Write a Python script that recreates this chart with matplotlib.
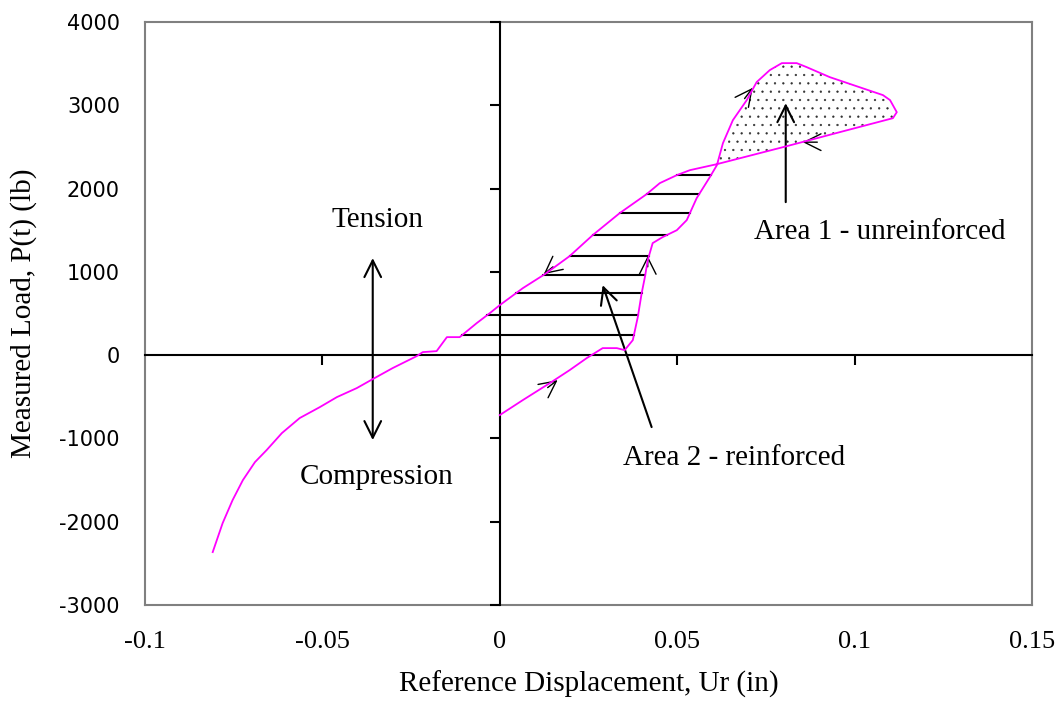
import numpy as np
import matplotlib
matplotlib.use("Agg")
import matplotlib.pyplot as plt

plt.rcParams["hatch.linewidth"] = 0.4
plt.rcParams["hatch.color"] = "#303030"

# load-displacement record (single continuous path)
disp = [0.0, 0.0065, 0.0141, 0.0197, 0.0245, 0.029, 0.033, 0.0352, 0.0375, 0.0389,
        0.040, 0.0409, 0.0417, 0.0431, 0.0459, 0.0499, 0.0527, 0.0555, 0.0592, 0.0612,
        0.0629, 0.0657, 0.0696, 0.0724, 0.0761, 0.0795, 0.0837, 0.0865, 0.093, 0.108,
        0.110, 0.1119, 0.1108, 0.0958, 0.0809, 0.0612, 0.0536, 0.0499, 0.0451, 0.0414,
        0.0338, 0.0262, 0.0197, 0.0127, 0.0065, 0.0, -0.0028, -0.0065, -0.0113, -0.0149,
        -0.0178, -0.0217, -0.0234, -0.0302, -0.0358, -0.0403, -0.0459, -0.0507, -0.0564,
        -0.0614, -0.0657, -0.069, -0.0724, -0.0753, -0.0781, -0.0809]
load = [-720, -540, -336, -180, -36, 84, 84, 60, 180, 456,
        744, 936, 1140, 1345, 1417, 1500, 1621, 1885, 2137, 2281,
        2545, 2821, 3061, 3278, 3422, 3506, 3506, 3458, 3338, 3122,
        3062, 2917, 2845, 2677, 2509, 2293, 2221, 2161, 2065, 1933,
        1705, 1441, 1189, 972, 804, 600, 504, 384, 216, 216,
        48, 36, -12, -156, -288, -396, -504, -624, -756,
        -936, -1140, -1285, -1501, -1741, -2017, -2365]

# horizontal hatch levels of area 2 (lb)
hatch_levels = [240, 480, 744, 960, 1189, 1441, 1705, 1933, 2161]
loop_level = 2280  # where the curve crosses itself

xticks = [-0.1, -0.05, 0, 0.05, 0.1, 0.15]
xticklabels = ["-0.1", "-0.05", "0", "0.05", "0.1", "0.15"]
yticks = [-3000, -2000, -1000, 0, 1000, 2000, 3000, 4000]

# small direction arrowheads on the curve: (tip, tail)
dir_arrows = [((0.0163, -300), (0.0135, -390)),
              ((0.0417, 1190), (0.0417, 1060)),
              ((0.0713, 3210), (0.0690, 3080)),
              ((0.0854, 2557), (0.0895, 2557)),
              ((0.0124, 972), (0.0150, 1060))]

disp = np.array(disp)
load = np.array(load)
peak = int(np.argmax(disp))


def first_cross(us, ps, level):
    for i in range(len(ps) - 1):
        p0, p1 = ps[i], ps[i + 1]
        if (p0 - level) * (p1 - level) <= 0 and p0 != p1:
            t = (level - p0) / (p1 - p0)
            return us[i] + t * (us[i + 1] - us[i])
    return np.nan


serif = "Liberation Serif"
fig = plt.figure(figsize=(10.58, 7.14), dpi=100)
pos = [0.137, 0.1527, 0.8384, 0.8165]

# frame + tick labels
ax = fig.add_axes(pos)
ax.set_xlim(-0.1, 0.15)
ax.set_ylim(-3000, 4000)
ax.set_xticks(xticks)
ax.set_xticklabels(xticklabels, fontfamily=serif, fontsize=19)
ax.set_yticks(yticks)
ax.set_yticklabels([str(v) for v in yticks], fontfamily="DejaVu Sans", fontsize=15)
ax.tick_params(axis="both", length=0)
ax.tick_params(axis="x", pad=19)
ax.tick_params(axis="y", pad=18)
for s in ax.spines.values():
    s.set_color("#808080")
    s.set_linewidth(1.5)
ax.set_xlabel("Reference Displacement, Ur (in)", fontfamily=serif, fontsize=21)
ax.set_ylabel("Measured Load, P(t) (lb)", fontfamily=serif, fontsize=21)
ax.xaxis.set_label_coords(0.5, -0.112)
ax.yaxis.set_label_coords(-0.122, 0.5)

# axes through the origin, data drawn here
ax2 = fig.add_axes(pos)
ax2.patch.set_visible(False)
ax2.set_xlim(-0.1, 0.15)
ax2.set_ylim(-3000, 4000)
ax2.spines["top"].set_visible(False)
ax2.spines["right"].set_visible(False)
for side in ("left", "bottom"):
    ax2.spines[side].set_position(("data", 0))
    ax2.spines[side].set_color("black")
    ax2.spines[side].set_linewidth(1.5)
ax2.set_xticks([-0.05, 0.05, 0.1])
ax2.set_yticks(yticks)
ax2.tick_params(direction="out", length=7, width=1.5, labelleft=False, labelbottom=False)

ax2.plot(disp, load, color="#ff00ff", lw=1.3, zorder=4)

# area 2 hatching
for lv in hatch_levels:
    right = first_cross(disp[:peak + 1], load[:peak + 1], lv)
    left = first_cross(disp[peak:], load[peak:], lv)
    ax2.plot([left, right], [lv, lv], color="black", lw=1.5, zorder=3)

# area 1 stipple
idx = np.where(load >= loop_level)[0]
loop = slice(idx[0], idx[-1] + 1)
ax2.fill(disp[loop], load[loop], facecolor="none", edgecolor="#303030", lw=0,
         hatch="..", zorder=2)

for tip, tail in dir_arrows:
    ax2.annotate("", xy=tip, xytext=tail,
                 arrowprops=dict(arrowstyle="->,head_length=0.6,head_width=0.3",
                                 color="black", lw=1.0, mutation_scale=20,
                                 shrinkA=0, shrinkB=0))

big = dict(arrowstyle="->,head_length=0.6,head_width=0.3", color="black",
           lw=1.5, mutation_scale=20, shrinkA=0, shrinkB=0)
ax2.annotate("", xy=(-0.0358, 1165), xytext=(-0.0358, -1020),
             arrowprops=dict(big, arrowstyle="<->,head_length=0.6,head_width=0.3"))
ax2.annotate("", xy=(0.0806, 3025), xytext=(0.0806, 1837), arrowprops=big)
ax2.annotate("", xy=(0.029, 840), xytext=(0.0428, -864), arrowprops=big)

ax2.text(-0.0344, 1620, "Tension", ha="center", va="center", fontfamily=serif, fontsize=21)
ax2.text(-0.0347, -1465, "Compression", ha="center", va="center", fontfamily=serif, fontsize=21)
ax2.text(0.1071, 1477, "Area 1 - unreinforced", ha="center", va="center",
         fontfamily=serif, fontsize=21)
ax2.text(0.066, -1237, "Area 2 - reinforced", ha="center", va="center",
         fontfamily=serif, fontsize=21)

fig.savefig("out.png", dpi=100, facecolor="white")
